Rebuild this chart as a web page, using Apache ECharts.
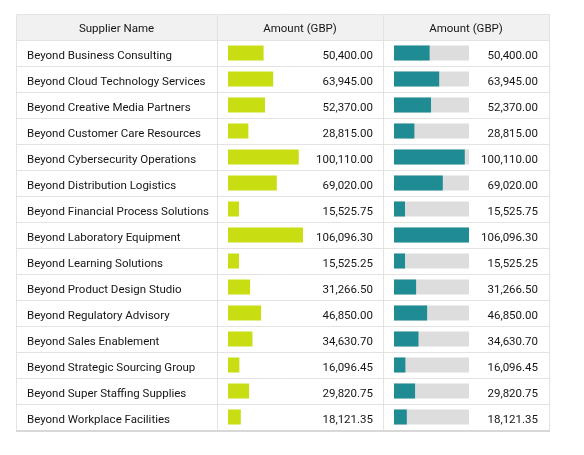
<!DOCTYPE html>
<html lang="en">
<head>
    <meta charset="UTF-8">
    <script src="https://cdn.jsdelivr.net/npm/echarts@6/dist/echarts.min.js"></script>
    <title>supplier amounts</title>
    <style>
        html, body { margin: 0; padding: 0; background: #fff; }
    </style>
</head>
<body>
    <div id="tableChart" style="width: 584px;height: 455px;"></div>
    <script>
        var suppliers = [
            'Beyond Business Consulting', 'Beyond Cloud Technology Services', 'Beyond Creative Media Partners',
            'Beyond Customer Care Resources', 'Beyond Cybersecurity Operations', 'Beyond Distribution Logistics',
            'Beyond Financial Process Solutions', 'Beyond Laboratory Equipment', 'Beyond Learning Solutions',
            'Beyond Product Design Studio', 'Beyond Regulatory Advisory', 'Beyond Sales Enablement',
            'Beyond Strategic Sourcing Group', 'Beyond Super Staffing Supplies', 'Beyond Workplace Facilities'
        ];
        var amounts = [50400.00, 63945.00, 52370.00, 28815.00, 100110.00, 69020.00, 15525.75, 106096.30,
            15525.25, 31266.50, 46850.00, 34630.70, 16096.45, 29820.75, 18121.35];
        var headers = ['Supplier Name', 'Amount (GBP)', 'Amount (GBP)'];

        var font = 'Roboto, "Noto Sans", sans-serif';
        var fontSize = 11.5;
        var textColor = '#161513';
        var lineColor = '#e3e3e3';
        var maxAmount = Math.max.apply(null, amounts);

        // table geometry (note: "top" is taken by window.top)
        var tblLeft = 16, tblRight = 549, tblTop = 14, headH = 26, rowH = 26;
        var colX = [16, 217, 383, 549];
        var bodyTop = tblTop + headH;
        var bodyH = rowH * suppliers.length;
        var bodyBottom = bodyTop + bodyH;
        var textShift = 3; // labels sit a bit lower than the bar centres

        function fmt(v) {
            return v.toLocaleString('en-US', { minimumFractionDigits: 2, maximumFractionDigits: 2 });
        }
        var amountLabels = amounts.map(fmt);

        var chart = echarts.init(document.getElementById('tableChart'));

        var graphics = [];
        graphics.push({
            type: 'rect', z: 0,
            shape: { x: tblLeft, y: tblTop, width: tblRight - tblLeft, height: headH },
            style: { fill: '#f1f1f1' }
        });
        // horizontal lines
        for (var i = 0; i < suppliers.length; i++) {
            var y = bodyTop + rowH * i;
            graphics.push({
                type: 'line', z: 1,
                shape: { x1: tblLeft, y1: y + 0.5, x2: tblRight, y2: y + 0.5 },
                style: { stroke: lineColor, lineWidth: 1 }
            });
        }
        graphics.push({
            type: 'line', z: 1,
            shape: { x1: tblLeft, y1: tblTop + 0.5, x2: tblRight, y2: tblTop + 0.5 },
            style: { stroke: lineColor, lineWidth: 1 }
        });
        graphics.push({
            type: 'line', z: 2,
            shape: { x1: tblLeft, y1: bodyBottom + 1, x2: tblRight + 1, y2: bodyBottom + 1 },
            style: { stroke: '#d8d8d8', lineWidth: 2 }
        });
        // vertical lines
        colX.forEach(function (x) {
            graphics.push({
                type: 'line', z: 1,
                shape: { x1: x + 0.5, y1: tblTop, x2: x + 0.5, y2: bodyBottom },
                style: { stroke: lineColor, lineWidth: 1 }
            });
        });
        headers.forEach(function (h, k) {
            graphics.push({
                type: 'text', z: 3,
                x: (colX[k] + colX[k + 1]) / 2, y: tblTop + headH / 2 + 2.5,
                style: {
                    text: h, fill: textColor, fontSize: fontSize, fontFamily: font,
                    align: 'center', verticalAlign: 'middle'
                }
            });
        });

        var barW = 15;
        var hidden = { show: false };
        function label(extra) {
            return Object.assign({ color: textColor, fontSize: fontSize, fontFamily: font, interval: 0 }, extra);
        }
        function textAxis(grid, data, pos, lbl) {
            return {
                gridIndex: grid, type: 'category', inverse: true, data: data, position: pos,
                axisLine: hidden, axisTick: hidden, splitLine: hidden, axisLabel: label(lbl)
            };
        }
        chart.setOption({
            animation: false,
            graphic: { elements: graphics },
            grid: [
                // bar grids
                { left: 228, width: 75, top: bodyTop, height: bodyH, outerBoundsMode: 'none' },
                { left: 394, width: 75, top: bodyTop, height: bodyH, outerBoundsMode: 'none' },
                // text grids, same columns shifted down a little
                { left: 228, width: 75, top: bodyTop + textShift, height: bodyH, outerBoundsMode: 'none' },
                { left: 394, width: 75, top: bodyTop + textShift, height: bodyH, outerBoundsMode: 'none' }
            ],
            xAxis: [0, 1, 2, 3].map(function (g) {
                return { gridIndex: g, type: 'value', min: 0, max: maxAmount, show: false };
            }),
            yAxis: [
                { gridIndex: 0, type: 'category', inverse: true, data: suppliers, show: false },
                { gridIndex: 1, type: 'category', inverse: true, data: suppliers, show: false },
                textAxis(2, suppliers, 'left', { align: 'left', margin: 201 }),
                textAxis(2, amountLabels, 'right', { align: 'right', margin: 70 }),
                textAxis(3, amountLabels, 'right', { align: 'right', margin: 69 })
            ],
            series: [
                {
                    type: 'bar', xAxisIndex: 0, yAxisIndex: 0, data: amounts,
                    barWidth: barW, itemStyle: { color: '#c9dd13' }
                },
                {
                    type: 'bar', xAxisIndex: 1, yAxisIndex: 1, data: amounts,
                    barWidth: barW, itemStyle: { color: '#1f8b92' },
                    showBackground: true, backgroundStyle: { color: '#dcdddc' }
                }
            ]
        });
    </script>
</body>
</html>
